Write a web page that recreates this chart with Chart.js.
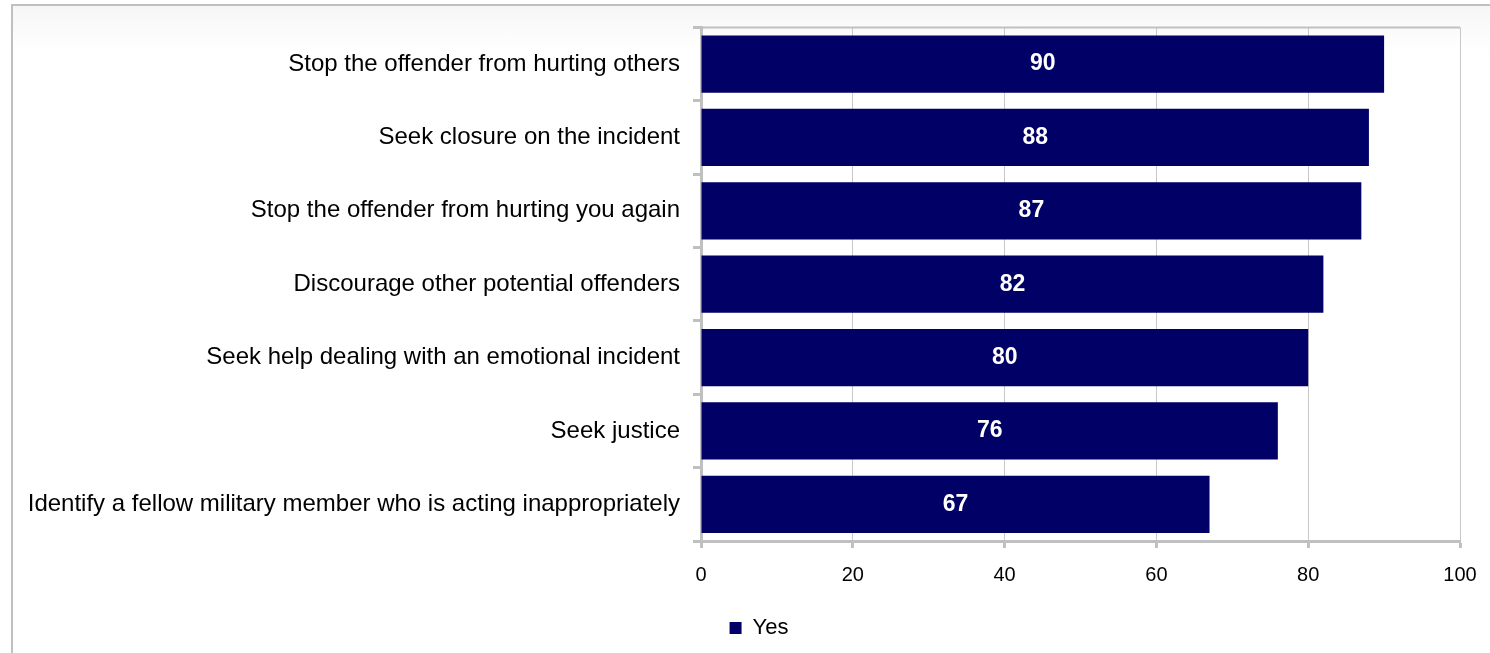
<!DOCTYPE html>
<html>
<head>
<meta charset="utf-8">
<script src="https://cdn.jsdelivr.net/npm/chart.js@4.4.0/dist/chart.umd.min.js"></script>
<style>
  html, body { margin: 0; padding: 0; background: #fff; overflow: hidden; }
  #frame {
    position: absolute; left: 11px; top: 4px; width: 1600px; height: 700px;
    border-left: 2px solid #c0c0c0; border-top: 2px solid #c0c0c0;
    background: linear-gradient(#f6f6f6, #ffffff 45px);
  }
  #wrap { position: absolute; left: 0; top: 0; width: 1490px; height: 653px; }
</style>
</head>
<body>
<div id="frame"></div>
<div id="wrap"><canvas id="chart" width="1490" height="653"></canvas></div>
<script>
const categories = [
  'Stop the offender from hurting others',
  'Seek closure on the incident',
  'Stop the offender from hurting you again',
  'Discourage other potential offenders',
  'Seek help dealing with an emotional incident',
  'Seek justice',
  'Identify a fellow military member who is acting inappropriately'
]
const yesValues = [90, 88, 87, 82, 80, 76, 67]
const seriesName = 'Yes'
const xTicks = [0, 20, 40, 60, 80, 100]

const barColor = '#000066'
const lineGray = '#c0c0c0'
const fontFamily = 'Arial, "Liberation Sans", sans-serif'

// white value text in the middle of each bar
const barLabels = {
  id: 'barLabels',
  afterDatasetsDraw(chart) {
    const ctx = chart.ctx
    const meta = chart.getDatasetMeta(0)
    ctx.save()
    ctx.fillStyle = '#ffffff'
    ctx.font = 'bold 23px ' + fontFamily
    ctx.textAlign = 'center'
    ctx.textBaseline = 'middle'
    meta.data.forEach((bar, i) => {
      ctx.fillText(String(yesValues[i]), (bar.x + bar.base) / 2, bar.y)
    })
    ctx.restore()
  }
}

// top border of the plot area, and let the long labels run to the canvas edge
const plotBorder = {
  id: 'plotBorder',
  afterLayout(chart) {
    chart.scales.y.left = 0
  },
  beforeDatasetsDraw(chart) {
    const { ctx, chartArea } = chart
    ctx.save()
    ctx.strokeStyle = lineGray
    ctx.lineWidth = 2
    ctx.beginPath()
    ctx.moveTo(chartArea.left, chartArea.top)
    ctx.lineTo(chartArea.right, chartArea.top)
    ctx.stroke()
    ctx.restore()
  }
}

const canvas = document.getElementById('chart')
new Chart(canvas, {
  type: 'bar',
  data: {
    labels: categories,
    datasets: [{
      label: seriesName,
      data: yesValues,
      backgroundColor: barColor,
      borderWidth: 0,
      barPercentage: 0.78,
      categoryPercentage: 1
    }]
  },
  options: {
    indexAxis: 'y',
    responsive: false,
    animation: false,
    layout: { padding: { left: 58, right: 30, top: 25, bottom: 4 } },
    plugins: {
      tooltip: { enabled: false },
      legend: {
        display: true,
        position: 'bottom',
        labels: {
          boxWidth: 12,
          boxHeight: 12,
          padding: 10,
          color: '#000',
          font: { family: fontFamily, size: 22 }
        }
      }
    },
    scales: {
      x: {
        min: 0,
        max: 100,
        afterBuildTicks(scale) { scale.ticks = xTicks.map(v => ({ value: v })) },
        afterFit(scale) {
          scale.height = 66
          scale.paddingLeft = 0
          scale.paddingRight = 0
        },
        grid: {
          color: '#c8c8c8',
          lineWidth: 1,
          drawTicks: true,
          tickLength: 7,
          tickWidth: 3,
          tickColor: lineGray
        },
        border: { display: true, color: lineGray, width: 3 },
        ticks: {
          color: '#000',
          padding: 15,
          font: { family: fontFamily, size: 20 }
        }
      },
      y: {
        afterFit(scale) { scale.width = 643 },
        grid: {
          offset: true,
          drawOnChartArea: false,
          drawTicks: true,
          tickLength: 8,
          tickWidth: 3,
          tickColor: lineGray
        },
        border: { display: true, color: lineGray, width: 3 },
        ticks: {
          color: '#000',
          padding: 13,
          autoSkip: false,
          font: { family: fontFamily, size: 24 }
        }
      }
    }
  },
  plugins: [plotBorder, barLabels]
})
</script>
</body>
</html>
